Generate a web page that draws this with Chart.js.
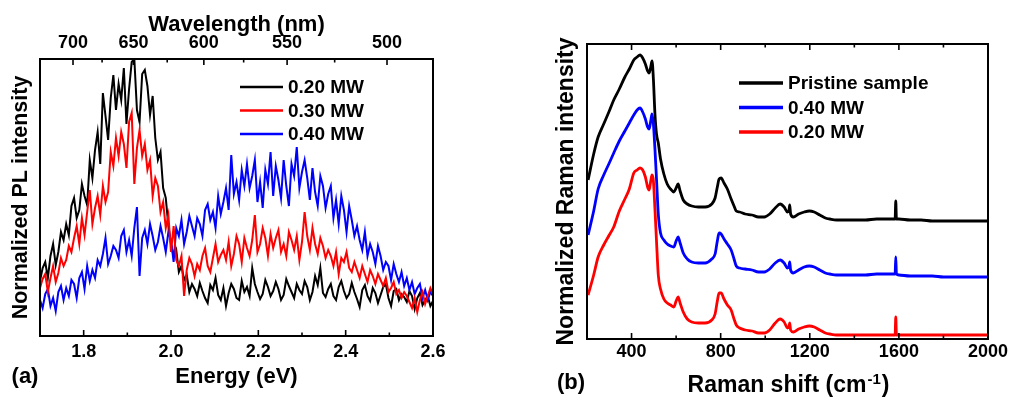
<!DOCTYPE html>
<html>
<head>
<meta charset="utf-8">
<title>PL and Raman spectra</title>
<script src="https://cdn.jsdelivr.net/npm/chart.js@4.4.1/dist/chart.umd.min.js"></script>
<style>
  html, body { margin: 0; padding: 0; background: #fff; }
  body { width: 1013px; height: 402px; position: relative; overflow: hidden; }
  .panel { position: absolute; top: 0; height: 402px; }
  #panelA { left: 0; width: 470px; }
  #panelB { left: 540px; width: 473px; }
</style>
</head>
<body>
<div class="panel" id="panelA"><canvas id="plChart"></canvas></div>
<div class="panel" id="panelB"><canvas id="ramanChart"></canvas></div>
<script>
// ── (a) PL spectra ───────────────────────────────────────────
const energyEv = [
  1.700,1.706,1.712,1.718,1.724,1.730,1.736,1.742,1.748,1.754,
  1.760,1.766,1.772,1.778,1.784,1.790,1.796,1.802,1.808,1.814,
  1.820,1.826,1.832,1.838,1.844,1.850,1.856,1.862,1.868,1.874,
  1.880,1.886,1.892,1.898,1.904,1.910,1.916,1.922,1.928,1.934,
  1.940,1.946,1.952,1.958,1.964,1.970,1.976,1.982,1.988,1.994,
  2.000,2.006,2.012,2.018,2.024,2.030,2.036,2.042,2.048,2.054,
  2.060,2.066,2.072,2.078,2.084,2.090,2.096,2.102,2.108,2.114,
  2.120,2.126,2.132,2.138,2.144,2.150,2.156,2.162,2.168,2.174,
  2.180,2.186,2.192,2.198,2.204,2.210,2.216,2.222,2.228,2.234,
  2.240,2.246,2.252,2.258,2.264,2.270,2.276,2.282,2.288,2.294,
  2.300,2.306,2.312,2.318,2.324,2.330,2.336,2.342,2.348,2.354,
  2.360,2.366,2.372,2.378,2.384,2.390,2.396,2.402,2.408,2.414,
  2.420,2.426,2.432,2.438,2.444,2.450,2.456,2.462,2.468,2.474,
  2.480,2.486,2.492,2.498,2.504,2.510,2.516,2.522,2.528,2.534,
  2.540,2.546,2.552,2.558,2.564,2.570,2.576,2.582,2.588,2.594,
  2.600
];

const pl020 = [
  55, 68, 74, 58, 80, 92, 71, 84, 104, 96,
  112, 101, 130, 138, 118, 126, 152, 140, 131, 176,
  158, 186, 204, 172, 243, 220, 196, 238, 261, 226,
  252, 236, 268, 212, 247, 274, 277, 226, 214, 262,
  266, 250, 221, 240, 198, 176, 184, 148, 138, 110,
  92, 80, 86, 64, 70, 56, 61, 44, 52, 47,
  40, 53, 45, 38, 33, 51, 46, 58, 41, 36,
  48, 30, 43, 52, 47, 38, 36, 55, 44, 49,
  40, 68, 52, 44, 37, 42, 56, 49, 40, 45,
  54, 47, 36, 41, 57, 50, 44, 38, 52, 46,
  42, 55, 49, 36, 44, 60, 51, 68, 43, 39,
  47, 52, 40, 36, 49, 55, 45, 38, 42, 53,
  44, 37, 29, 46, 51, 40, 35, 48, 43, 33,
  41, 49, 52, 38, 30, 45, 47, 36, 42, 39,
  34, 45, 40, 27, 38, 43, 31, 36, 40, 30,
  35
];

const pl030 = [
  48, 57, 62, 44, 58, 70, 54, 63, 78, 70,
  76, 90, 84, 98, 110, 92, 118, 101, 124, 146,
  112, 128, 140, 121, 150, 134, 144, 184, 170, 198,
  180, 204, 192, 168, 214, 223, 152, 188, 206, 180,
  192, 166, 176, 140, 158, 150, 124, 134, 108, 121,
  84, 110, 76, 70, 80, 40, 66, 78, 72, 60,
  72, 66, 80, 88, 70, 64, 78, 92, 74, 81,
  86, 76, 94, 70, 82, 100, 92, 74, 98, 88,
  80, 96, 121, 84, 92, 108, 98, 80, 102, 88,
  98, 106, 84, 92, 80, 104, 96, 86, 100, 76,
  94, 124, 100, 86, 108, 92, 82, 98, 90, 78,
  86, 80, 70, 84, 62, 78, 74, 84, 68, 64,
  74, 66, 58, 70, 62, 54, 66, 60, 52, 62,
  56, 50, 58, 44, 48, 54, 42, 46, 38, 44,
  40, 34, 28, 38, 24, 36, 44, 32, 40, 48,
  42
];

const pl040 = [
  36, 28, 42, 47, 30, 38, 25, 44, 50, 36,
  48, 40, 56, 52, 38, 58, 64, 47, 70, 55,
  66, 58, 76, 70, 82, 98, 72, 80, 90, 86,
  78, 100, 106, 84, 96, 80, 108, 129, 60, 98,
  106, 92, 112, 100, 86, 94, 110, 98, 84, 104,
  96, 74, 108, 100, 116, 92, 104, 120, 110, 100,
  118, 112, 100, 126, 132, 116, 124, 108, 140, 122,
  134, 148, 126, 181, 142, 154, 136, 166, 150, 172,
  148, 160, 176, 134, 154, 128, 166, 152, 184, 140,
  170, 156, 138, 176, 150, 130, 172, 160, 189, 148,
  164, 176, 158, 136, 168, 144, 130, 160, 150, 128,
  142, 150, 118, 136, 112, 140, 126, 104, 130, 116,
  100, 110, 96, 86, 104, 80, 92, 84, 72, 90,
  80, 66, 74, 70, 56, 72, 62, 54, 64, 50,
  58, 46, 54, 42, 48, 52, 38, 46, 36, 44,
  40
];

const energyTicks = [1.8, 2.0, 2.2, 2.4, 2.6];
const energyMinor = [1.9, 2.1, 2.3, 2.5];
const wavelengthTicks = [700, 650, 600, 550, 500];
const wavelengthMinor = [675, 625, 575, 525];
// top axis runs in 1e4/nm, lined up with the energy axis of the figure
const wlAxisMin = 13.685;
const wlAxisMax = 20.837;

// ── (b) Raman spectra ────────────────────────────────────────
const ramanShift = [
  205, 230, 250, 275, 300, 320, 345, 370, 390, 410,
  425, 438, 450, 462, 472, 479, 486, 492, 498, 505,
  512, 520, 530, 545, 560, 575, 590, 600, 609, 618,
  632, 650, 670, 700, 730, 760, 775, 785, 793, 802,
  815, 830, 847, 860, 870, 885, 910, 940, 970, 996,
  1020, 1045, 1067, 1085, 1100, 1106, 1110, 1114, 1126, 1150,
  1175, 1198, 1220, 1245, 1270, 1290, 1320, 1360, 1400, 1450,
  1500, 1550, 1575, 1583, 1586, 1589, 1600, 1650, 1700, 1750,
  1800, 1850, 1900, 1950, 2000
];

const ramanPristine = [
  159, 185, 202, 215, 228, 239, 250, 262, 270, 279,
  282, 284, 281, 275, 268, 266, 272, 278, 260, 225,
  205, 196, 180, 165, 155, 150, 147, 151, 155, 148,
  139, 135, 133, 132, 132, 135, 141, 152, 160, 161,
  156, 150, 140, 133, 128, 127, 125, 124, 122, 122,
  125, 131, 135, 132, 127, 128, 134, 125, 122, 125,
  127, 128, 127, 124, 121, 120, 119, 119, 119, 119,
  120, 120, 120, 120, 138, 120, 120, 119, 119, 118,
  118, 118, 118, 118, 118
];

const raman040 = [
  104, 128, 150, 164, 176, 186, 198, 208, 216, 224,
  229, 231, 227, 220, 212, 210, 218, 225, 215, 190,
  160, 125, 106, 99, 95, 93, 92, 98, 102, 96,
  86, 80, 77, 76, 76, 80, 85, 98, 106, 105,
  100, 95, 89, 80, 73, 71, 70, 69, 67, 67,
  70, 76, 79, 76, 71, 72, 77, 69, 66, 69,
  72, 73, 72, 69, 66, 65, 64, 64, 64, 64,
  65, 65, 65, 65, 82, 65, 64, 63, 63, 63,
  62, 62, 62, 62, 62
];

const raman020 = [
  44, 64, 82, 94, 104, 112, 128, 140, 150, 166,
  169, 171, 169, 162, 152, 149, 158, 164, 158, 130,
  98, 64, 50, 40, 36, 34, 32, 38, 42, 36,
  27, 20, 17, 16, 16, 19, 25, 38, 46, 46,
  40, 34, 29, 20, 14, 11, 9, 8, 6, 6,
  9, 16, 20, 17, 11, 12, 16, 9, 7, 10,
  12, 13, 12, 9, 6, 5, 4, 4, 4, 4,
  4, 4, 4, 4, 22, 4, 4, 4, 4, 4,
  4, 4, 4, 4, 4
];

const ramanTicks = [400, 800, 1200, 1600, 2000];
const ramanMinor = [600, 1000, 1400, 1800];

// ── Helpers ──────────────────────────────────────────────────
const FONT = '"Liberation Sans", Arial, Helvetica, sans-serif';
Chart.defaults.font.family = FONT;
Chart.defaults.font.weight = 'bold';
Chart.defaults.color = '#000';

function pts(xs, ys) {
    return xs.map((x, i) => ({ x, y: ys[i] }));
}

function hiddenGrid() {
    return { display: false, drawTicks: false };
}

// frame, inward tick marks, in-plot legend and panel tag
const panelDecor = {
    id: 'panelDecor',
    afterDatasetsDraw(chart, args, o) {
        const { ctx, chartArea: a } = chart;
        ctx.save();
        ctx.strokeStyle = '#000';
        ctx.lineWidth = 2;
        ctx.strokeRect(a.left, a.top, a.right - a.left, a.bottom - a.top);

        ctx.lineWidth = 1.6;
        (o.marks || []).forEach(m => {
            const s = chart.scales[m.scale];
            const edge = m.edge === 'top' ? a.top : a.bottom;
            const dir = m.edge === 'top' ? 1 : -1;
            const tick = (v, len) => {
                const px = s.getPixelForValue(v);
                ctx.beginPath();
                ctx.moveTo(px, edge);
                ctx.lineTo(px, edge + dir * len);
                ctx.stroke();
            };
            m.major.forEach(v => tick(v, 6));
            m.minor.forEach(v => tick(v, 3.5));
        });

        const lg = o.legend;
        ctx.font = 'bold ' + lg.size + 'px ' + FONT;
        ctx.textAlign = 'left';
        ctx.textBaseline = 'middle';
        chart.data.datasets.forEach((d, i) => {
            const y = lg.y0 + i * lg.dy;
            ctx.strokeStyle = d.borderColor;
            ctx.lineWidth = lg.lineWidth;
            ctx.beginPath();
            ctx.moveTo(lg.x1, y);
            ctx.lineTo(lg.x2, y);
            ctx.stroke();
            ctx.fillStyle = '#000';
            ctx.fillText(d.label, lg.textX, y + 1);
        });

        ctx.font = 'bold 22px ' + FONT;
        ctx.textAlign = 'center';
        ctx.fillText(o.tag.text, o.tag.x, o.tag.y);

        if (o.supTitle) {
            const t = o.supTitle;
            const big = 'bold ' + t.size + 'px ' + FONT;
            const small = 'bold ' + t.supSize + 'px ' + FONT;
            ctx.textBaseline = 'alphabetic';
            ctx.textAlign = 'left';
            ctx.font = big;
            const w1 = ctx.measureText(t.main).width;
            const w3 = ctx.measureText(t.close).width;
            ctx.font = small;
            const w2 = ctx.measureText(t.sup).width;
            let x = (a.left + a.right) / 2 - (w1 + w2 + w3) / 2;
            ctx.font = big;
            ctx.fillText(t.main, x, t.y);
            x += w1;
            ctx.font = small;
            ctx.fillText(t.sup, x + 1, t.y - 8);
            x += w2 + 2;
            ctx.font = big;
            ctx.fillText(t.close, x, t.y);
        }
        ctx.restore();
    }
};

// ── (a) PL chart ─────────────────────────────────────────────
new Chart(document.getElementById('plChart'), {
    type: 'scatter',
    data: {
        datasets: [
            { label: '0.20 MW', data: pts(energyEv, pl020), borderColor: '#000000', order: 3 },
            { label: '0.30 MW', data: pts(energyEv, pl030), borderColor: '#ff0000', order: 1 },
            { label: '0.40 MW', data: pts(energyEv, pl040), borderColor: '#0000ff', order: 2 }
        ].map(d => Object.assign(d, { showLine: true, pointRadius: 0, borderWidth: 2, tension: 0 }))
    },
    options: {
        responsive: true,
        maintainAspectRatio: false,
        animation: false,
        events: [],
        layout: { padding: { top: 0, left: 0, right: 37, bottom: 0 } },
        plugins: {
            legend: { display: false },
            tooltip: { enabled: false },
            panelDecor: {
                marks: [
                    { scale: 'x', edge: 'bottom', major: energyTicks, minor: energyMinor },
                    { scale: 'xTop', edge: 'top',
                      major: wavelengthTicks.map(w => 1e4 / w),
                      minor: wavelengthMinor.map(w => 1e4 / w) }
                ],
                legend: { x1: 240, x2: 283, textX: 288, y0: 87, dy: 23.5, size: 19, lineWidth: 2.5 },
                tag: { text: '(a)', x: 25, y: 377 }
            }
        },
        scales: {
            x: {
                type: 'linear', position: 'bottom', min: 1.7, max: 2.6,
                afterBuildTicks: s => { s.ticks = energyTicks.map(v => ({ value: v })); },
                afterFit: s => { s.height = 66; },
                grid: hiddenGrid(),
                border: { display: false },
                ticks: { padding: 5, autoSkip: false, maxRotation: 0,
                         font: { size: 18, weight: 'bold' }, callback: v => v.toFixed(1) },
                title: { display: true, text: 'Energy (eV)',
                         font: { size: 22, weight: 'bold' }, padding: { top: 0, bottom: 12 } }
            },
            xTop: {
                type: 'linear', position: 'top', min: wlAxisMin, max: wlAxisMax,
                afterBuildTicks: s => { s.ticks = wavelengthTicks.map(w => ({ value: 1e4 / w })); },
                afterFit: s => { s.height = 59; },
                grid: hiddenGrid(),
                border: { display: false },
                ticks: { padding: 5, autoSkip: false, maxRotation: 0,
                         font: { size: 18, weight: 'bold' }, callback: v => String(Math.round(1e4 / v)) },
                title: { display: true, text: 'Wavelength (nm)',
                         font: { size: 22, weight: 'bold' }, padding: { top: 12, bottom: 0 } }
            },
            y: {
                type: 'linear', min: 0, max: 277,
                afterFit: s => { s.width = 40; },
                grid: hiddenGrid(),
                border: { display: false },
                ticks: { display: false },
                title: { display: true, text: 'Normalized PL intensity',
                         font: { size: 21.5, weight: 'bold' }, padding: { top: 8, bottom: 0 } }
            }
        }
    },
    plugins: [panelDecor]
});

// ── (b) Raman chart ──────────────────────────────────────────
new Chart(document.getElementById('ramanChart'), {
    type: 'scatter',
    data: {
        datasets: [
            { label: 'Pristine sample', data: pts(ramanShift, ramanPristine), borderColor: '#000000', order: 3 },
            { label: '0.40 MW', data: pts(ramanShift, raman040), borderColor: '#0000ff', order: 1 },
            { label: '0.20 MW', data: pts(ramanShift, raman020), borderColor: '#ff0000', order: 2 }
        ].map(d => Object.assign(d, { showLine: true, pointRadius: 0, borderWidth: 2.8,
                                      cubicInterpolationMode: 'monotone' }))
    },
    options: {
        responsive: true,
        maintainAspectRatio: false,
        animation: false,
        events: [],
        layout: { padding: { top: 44, left: 0, right: 25, bottom: 0 } },
        plugins: {
            legend: { display: false },
            tooltip: { enabled: false },
            panelDecor: {
                marks: [
                    { scale: 'x', edge: 'bottom', major: ramanTicks, minor: ramanMinor },
                    { scale: 'x', edge: 'top', major: ramanTicks, minor: ramanMinor }
                ],
                legend: { x1: 199, x2: 243, textX: 248, y0: 83, dy: 24.5, size: 19, lineWidth: 3.5 },
                tag: { text: '(b)', x: 31, y: 383 },
                supTitle: { main: 'Raman shift (cm', sup: '-1', close: ')', size: 23, supSize: 15, y: 392 }
            }
        },
        scales: {
            x: {
                type: 'linear', position: 'bottom', min: 200, max: 2000,
                afterBuildTicks: s => { s.ticks = ramanTicks.map(v => ({ value: v })); },
                afterFit: s => { s.height = 63; },
                grid: hiddenGrid(),
                border: { display: false },
                ticks: { padding: 2, autoSkip: false, maxRotation: 0,
                         font: { size: 18, weight: 'bold' }, callback: v => String(v) },
                title: { display: false }
            },
            y: {
                type: 'linear', min: 0, max: 295,
                afterFit: s => { s.width = 47; },
                grid: hiddenGrid(),
                border: { display: false },
                ticks: { display: false },
                title: { display: true, text: 'Normalized Raman intensity',
                         font: { size: 23, weight: 'bold' }, padding: { top: 13, bottom: 0 } }
            }
        }
    },
    plugins: [panelDecor]
});
</script>
</body>
</html>
